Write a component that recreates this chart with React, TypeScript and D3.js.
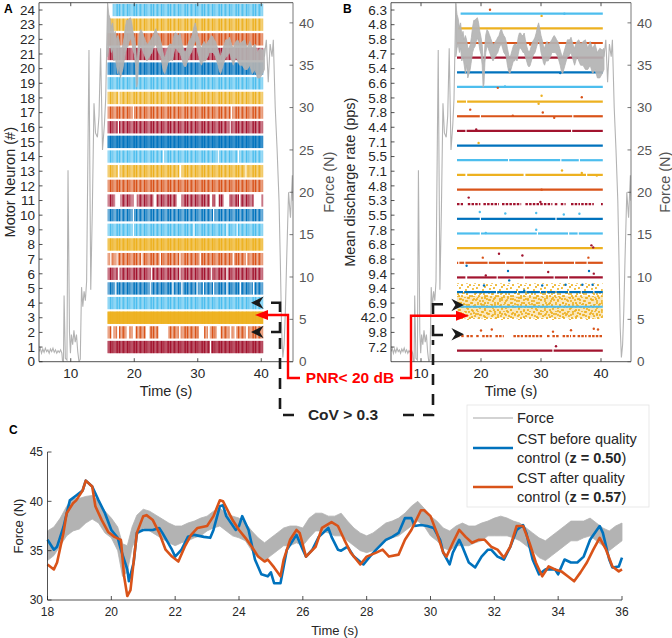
import React from 'react';
import * as d3 from 'd3';

// ---------------- DATA ----------------
const rowIds = d3.range(1, 25);
const rateLabels = ['7.2','9.8','42.0','6.9','9.4','9.4','6.8','6.8','7.8','5.5','5.3','4.8','7.1','5.5','7.1','4.4','7.8','5.8','6.6','5.4','4.7','5.8','4.8','6.3'];
const rowStart = [15.8,15.8,15.8,15.8,15.8,15.8,15.8,15.8,15.8,15.8,15.8,15.8,15.8,15.8,15.8,15.8,15.8,15.8,15.8,15.8,15.8,15.8,16.2,16.6];
const rowEnd = 40.3;
const rowGaps: number[][][] = [
  [[31.9,32.1]],
  [[16.4,16.7],[17.3,17.6],[18.8,19.2],[19.8,20.2],[21.8,22.4],[23.8,25.4],[27.0,27.3],[30.2,31.0],[31.6,31.9],[33.0,33.6],[35.0,35.3],[35.8,36.1],[37.6,37.9]],
  [],
  [],
  [[17.0,17.2],[22.5,22.7],[26.0,26.2],[27.4,27.6],[29.8,30.0],[30.8,31.0],[32.4,32.6],[34.5,34.7],[36.6,36.8],[38.7,38.9]],
  [[17.4,17.7],[22.6,22.8],[27.1,27.3],[32.1,32.3],[34.5,34.7]],
  [[16.2,16.4],[17.2,17.4],[21.1,21.3],[24.0,24.2],[27.1,27.3],[30.3,30.5],[35.5,35.7],[37.6,37.8]],
  [],
  [[19.8,20.0],[29.3,29.5],[34.5,34.7],[36.1,36.3]],
  [[19.8,20.0],[32.4,32.6]],
  [[17.0,17.8],[19.9,20.4],[23.0,23.5],[26.7,27.4],[31.9,32.3],[32.8,33.3],[34.1,35.0],[36.5,36.7],[38.8,40.0]],
  [],
  [[17.4,17.7],[27.1,27.4],[37.5,37.7]],
  [[24.5,24.7],[33.2,33.4],[36.3,36.5]],
  [],
  [[17.4,17.6],[35.0,35.2]],
  [[19.8,20.0],[35.2,35.4]],
  [[17.5,17.7]],
  [], [], [], [], [], []
];
// [row, time (s), displayed position in row units]
const rateOutliers: [number, number, number][] = [
  [22,21.5,24.27],[23,30.1,23.85],[24,33.9,24.0],[22,28.2,21.9],[20,24.8,20.2],[20,33.2,19.95],
  [17,22.8,18.94],[19,24.0,19.03],[18,30.1,18.4],[17,36.8,18.3],[18,29.6,17.85],[17,18.2,17.45],
  [17,30.3,17.26],[17,25.3,17.04],[17,32.2,16.9],[16,19.2,16.1],[13,19.6,15.18],[13,33.5,13.3],
  [13,36.8,13.13],[13,39.3,12.96],[12,30.1,11.99],[11,17.95,11.45],[11,29.9,11.15],[9,19.8,10.47],
  [9,24.05,10.36],[9,29.2,10.4],[9,33.8,10.3],[9,36.4,10.35],[9,20.8,9.03],[9,29.2,9.26],
  [11,38.4,8.19],[11,38.7,8.05],[6,23.0,7.62],[6,26.9,7.5],[7,20.3,7.35],[7,37.9,7.35],
  [5,17.6,6.8],[5,24.5,6.44],[5,38.0,6.44],[6,20.8,6.13],[6,31.2,6.37],[6,38.8,6.26],
  [5,20.5,5.45],[5,24.7,5.8],[5,27.2,5.1],[5,30.2,5.45],[5,34.1,5.5],[5,36.9,5.5],[5,38.6,5.5],
  [2,20.0,2.38],[2,21.8,2.45],[2,32.0,2.3],[2,35.0,2.4],[2,38.8,2.5],[2,39.5,2.45],[1,32.5,1.3]
];
// force during hold phase: [time, low, high] (N)
const forceBand: [number, number, number][] = [
  [15.8,36.0,42.3],[16.0,37.0,41.0],[16.2,37.5,40.5],[16.4,36.5,39.5],[16.6,37.0,40.0],[16.8,35.5,38.5],
  [17.0,36.0,39.0],[17.2,35.0,38.0],[17.4,34.0,38.5],[17.6,35.0,38.0],[17.8,33.5,37.0],
  [18.0,34.0,37.0],[18.2,34.5,37.4],[18.4,35.5,38.3],[18.6,36.5,39.5],[18.8,37.0,40.3],[19.0,37.2,40.3],
  [19.2,37.8,40.5],[19.4,38.2,40.6],[19.6,37.8,40.0],[19.8,36.8,39.0],[20.0,36.3,38.3],[20.2,35.0,37.4],
  [20.35,32.4,35.7],[20.5,32.8,35.5],[20.65,35.3,37.4],[20.8,36.5,38.6],[21.0,37.3,39.2],[21.2,37.0,39.0],
  [21.4,36.6,38.6],[21.6,36.2,38.2],[21.8,35.8,37.8],[22.0,35.5,37.5],[22.2,35.8,37.5],[22.4,36.0,37.8],
  [22.6,36.3,38.0],[22.8,36.5,38.3],[23.0,37.0,38.5],[23.2,37.3,39.0],[23.4,37.5,39.3],[23.6,37.0,38.8],
  [23.8,36.5,38.5],[24.0,36.3,38.3],[24.2,36.0,37.8],[24.4,35.0,37.0],[24.6,34.3,36.3],[24.8,34.0,35.8],
  [25.0,34.5,36.3],[25.2,35.0,36.8],[25.4,35.5,37.3],[25.6,35.5,37.5],[25.8,35.8,37.5],[26.0,35.5,37.3],
  [26.2,36.3,38.3],[26.4,37.0,38.8],[26.6,37.0,38.8],[26.8,36.8,38.5],[27.0,36.5,38.5],[27.2,36.5,38.8],
  [27.4,36.0,38.0],[27.6,35.5,37.3],[27.8,35.0,36.8],[28.0,34.8,36.5],[28.2,35.0,36.8],[28.4,35.5,37.3],
  [28.6,36.0,37.8],[28.8,36.3,38.0],[29.0,36.5,38.3],[29.2,37.0,38.8],[29.4,37.5,39.5],[29.6,38.0,40.0],
  [29.8,37.5,39.3],[30.0,36.5,38.5],[30.2,36.0,38.0],[30.4,35.3,37.3],[30.6,35.0,37.0],[30.8,35.5,37.5],
  [31.0,35.5,37.8],[31.2,35.5,37.5],[31.4,35.8,37.5],[31.6,36.0,37.8],[31.8,36.5,38.0],[32.0,36.5,38.3],
  [32.2,36.5,38.5],[32.4,36.5,38.3],[32.6,36.3,38.0],[32.8,36.0,37.8],[33.0,35.5,37.3],[33.2,35.0,36.8],
  [33.4,34.3,36.3],[33.6,34.0,36.0],[33.8,34.5,36.5],[34.0,35.0,37.0],[34.2,35.5,37.5],[34.4,36.0,38.0],
  [34.6,36.0,38.0],[34.8,36.3,38.0],[35.0,36.5,38.3],[35.2,36.0,37.8],[35.4,35.5,37.3],[35.6,35.0,37.0],
  [35.8,35.5,37.5],[36.0,36.0,37.8],[36.3,35.5,38.0],[36.6,35.0,37.5],[37.0,35.0,37.8],[37.4,34.5,38.0],
  [37.8,34.5,37.0],[38.2,35.0,37.8],[38.6,34.0,37.0],[39.0,34.5,37.5],[39.4,33.5,36.5],[39.8,33.5,37.0],
  [40.2,34.0,36.8],[40.5,34.5,37.0]
];
const forceRampUp: [number, number][] = [
  [5.0,1.2],[5.2,1.6],[5.4,1.0],[5.6,1.5],[5.8,1.1],[6.0,1.6],[6.2,1.2],[6.4,1.4],[6.6,1.0],[6.8,1.5],
  [7.0,1.2],[7.2,1.6],[7.4,1.1],[7.6,1.4],[7.8,1.0],[8.0,1.3],[8.2,1.1],[8.4,1.4],[8.6,1.0],[8.7,0.1],
  [8.85,0.0],[8.95,7.8],[9.15,0.4],[9.4,0.2],[9.57,22.6],[9.8,3.5],[9.95,1.0],[10.1,3.2],[10.3,2.0],
  [10.5,3.7],[10.7,2.3],[10.9,3.2],[11.1,1.2],[11.3,0.0],[11.5,0.3],[11.7,8.8],[11.9,6.5],[12.1,8.3],
  [12.3,7.2],[12.5,9.5],[12.87,36.8],[13.15,8.5],[13.4,18.0],[13.66,30.5],[13.9,27.0],[14.2,26.5],
  [14.45,29.0],[14.7,37.0],[15.0,25.0],[15.3,28.0],[15.5,31.0],[15.8,42.3]
];
const forceRampDown: [number, number][] = [
  [40.5,36.0],[40.8,38.0],[41.1,33.0],[41.4,37.5],[41.7,36.0],[41.9,38.0],[42.2,30.0],[42.5,25.0],
  [42.8,19.0],[43.0,12.0],[43.2,4.0],[43.4,0.5],[43.6,2.0],[43.8,6.0],[44.0,12.0],[44.3,20.0],
  [44.6,17.0],[44.9,22.0],[45.0,19.0]
];
const cstBefore: [number, number][] = [
  [18.0,36.1],[18.2,35.1],[18.3,35.4],[18.5,37.4],[18.7,40.1],[18.9,40.6],[19.1,41.1],[19.2,42.1],[19.4,41.5],
  [19.6,40.1],[19.8,38.8],[20.0,37.1],[20.2,36.3],[20.3,35.1],[20.5,33.1],[20.55,31.9],[20.7,33.8],[20.8,36.8],
  [21.0,37.1],[21.3,37.1],[21.5,37.3],[21.6,36.8],[21.9,35.1],[22.0,34.4],[22.2,35.1],[22.4,36.4],[22.6,36.6],
  [22.9,36.4],[23.1,36.3],[23.2,37.1],[23.4,39.5],[23.5,39.6],[23.6,38.5],[23.9,37.1],[24.0,37.5],[24.1,38.5],
  [24.3,37.1],[24.5,34.1],[24.7,32.6],[24.9,32.4],[25.0,32.8],[25.1,31.7],[25.3,31.7],[25.4,33.4],[25.5,35.1],
  [25.8,36.6],[26.0,35.1],[26.1,34.4],[26.3,35.1],[26.5,36.4],[26.8,37.3],[26.9,36.4],[27.1,35.1],[27.2,35.0],
  [27.4,35.4],[27.6,34.4],[27.9,33.6],[28.1,34.4],[28.3,35.1],[28.6,36.1],[28.8,36.4],[29.0,36.8],[29.2,38.3],
  [29.4,38.3],[29.5,37.5],[29.7,37.6],[29.9,37.5],[30.1,37.3],[30.3,36.1],[30.4,34.8],[30.6,33.6],[30.7,34.8],
  [30.9,36.1],[31.0,35.4],[31.2,33.8],[31.4,33.3],[31.6,34.4],[31.8,35.1],[31.9,35.1],[32.1,34.4],[32.3,34.1],
  [32.5,35.4],[32.7,37.1],[32.9,37.6],[33.0,36.8],[33.2,34.1],[33.4,32.6],[33.6,33.1],[33.9,33.1],[34.0,32.6],
  [34.2,34.1],[34.4,33.8],[34.6,33.8],[34.8,34.4],[35.0,36.1],[35.3,37.5],[35.4,36.8],[35.6,34.1],[35.7,33.3],
  [35.9,33.4],[36.0,34.3]
];
const cstAfter: [number, number][] = [
  [18.0,33.6],[18.2,33.1],[18.3,33.8],[18.5,36.8],[18.6,38.8],[18.8,39.8],[18.9,40.1],[19.1,41.1],[19.2,42.1],
  [19.4,41.5],[19.5,39.5],[19.7,38.1],[19.9,36.9],[20.1,36.4],[20.3,36.1],[20.4,32.4],[20.5,30.4],[20.6,31.0],
  [20.8,36.8],[21.0,38.5],[21.1,38.6],[21.3,38.1],[21.5,36.8],[21.7,35.1],[21.9,34.4],[22.1,33.9],[22.3,35.4],
  [22.5,36.6],[22.7,37.3],[23.0,37.5],[23.2,38.5],[23.4,40.1],[23.5,40.0],[23.8,38.1],[24.0,37.1],[24.2,36.3],
  [24.4,35.4],[24.6,34.4],[24.8,33.9],[24.9,34.1],[25.1,33.3],[25.3,32.4],[25.4,34.1],[25.6,36.1],[25.8,37.1],
  [25.9,36.8],[26.1,34.4],[26.4,35.4],[26.6,37.3],[26.9,37.9],[27.1,37.5],[27.3,36.1],[27.5,34.8],[27.8,33.6],
  [28.0,34.4],[28.3,34.8],[28.5,35.1],[28.7,34.4],[29.0,34.6],[29.2,36.1],[29.4,37.1],[29.7,39.1],[29.8,39.1],
  [30.0,38.5],[30.2,36.8],[30.4,34.8],[30.5,34.4],[30.7,35.8],[30.9,37.1],[31.1,36.4],[31.3,35.8],[31.5,36.1],
  [31.7,36.1],[31.9,35.4],[32.1,35.1],[32.3,34.3],[32.5,35.4],[32.7,37.5],[32.9,37.5],[33.1,35.8],[33.3,33.8],
  [33.5,32.4],[33.7,33.4],[33.9,33.1],[34.1,32.9],[34.3,32.4],[34.5,31.9],[34.7,32.8],[34.9,33.8],[35.1,35.1],
  [35.3,36.3],[35.5,35.1],[35.7,33.4],[35.9,32.9],[36.0,33.1]
];
const rightForceTicks = [0,5,10,15,20,25,30,35,40];
const timeTicksAB = [10,20,30,40];
const timeTicksC = [18,20,22,24,26,28,30,32,34,36];
const forceTicksC = [30,35,40,45];
const legendItems = ['Force', 'CST before quality', 'CST after quality'];
const legendZ = ['0.50', '0.57'];

// ---------------- STYLE ----------------
const FONT = "'Liberation Sans', Arial, Helvetica, sans-serif";
const COLORS = ['#A2142F', '#D95319', '#EDB120', '#4DBEEE', '#0072BD'];
const AX = '#262626';
const RAX = '#555555';
const GRAY = '#b3b3b3';
const rowSolid = [0.45,0,0.95,0.2,0.15,0.1,0,0.45,0.15,0.1,0,0.1,0.2,0.1,0.55,0.1,0,0.15,0.15,0.3,0.1,0.1,0.2,0.15];
const colorOf = (r: number) => COLORS[(r - 1) % 5];

function segmentsFor(r: number): [number, number][] {
  const out: [number, number][] = [];
  let s = rowStart[r - 1];
  for (const g of rowGaps[r - 1]) {
    if (g[0] > s) out.push([s, g[0]]);
    s = g[1];
  }
  if (rowEnd > s) out.push([s, rowEnd]);
  return out;
}

export default function App() {
  const xA = d3.scaleLinear().domain([5, 45]).range([39, 293]);
  const xB = d3.scaleLinear().domain([5, 45]).range([391, 631]);
  const yRow = d3.scaleLinear().domain([0, 24.5]).range([361.7, 2.7]);
  const yF = d3.scaleLinear().domain([0, 42.38]).range([361.7, 2.7]);
  const xC = d3.scaleLinear().domain([18, 36]).range([47.5, 622]);
  const yC = d3.scaleLinear().domain([30, 45]).range([600, 452]);

  const forcePanel = (x: d3.ScaleLinear<number, number>) => {
    const area = d3.area<[number, number, number]>().x(d => x(d[0])).y0(d => yF(d[1])).y1(d => yF(d[2]));
    const line = d3.line<[number, number]>().x(d => x(d[0])).y(d => yF(d[1]));
    return (
      <g>
        <path d={area(forceBand) || ''} fill={GRAY} fillOpacity={0.92} stroke={GRAY} strokeWidth={0.8} />
        <path d={line(forceRampUp) || ''} fill="none" stroke={GRAY} strokeWidth={1.1} />
        <path d={line(forceRampDown) || ''} fill="none" stroke={GRAY} strokeWidth={1.1} />
      </g>
    );
  };

  const axesAB = (x: d3.ScaleLinear<number, number>, leftLabels: string[], leftFrom: number, leftTitle: string, leftTitleX: number, rightTitleX: number) => {
    const [x0, x1] = x.range();
    const yTop = yRow(24.5), yBot = yRow(0);
    return (
      <g fontFamily={FONT}>
        <line x1={x0} x2={x1} y1={yTop} y2={yTop} stroke={AX} strokeWidth={0.8} />
        <line x1={x0} x2={x1} y1={yBot} y2={yBot} stroke={AX} strokeWidth={0.8} />
        <line x1={x0} x2={x0} y1={yTop} y2={yBot} stroke={AX} strokeWidth={0.8} />
        <line x1={x1} x2={x1} y1={yTop} y2={yBot} stroke={RAX} strokeWidth={0.8} />
        {leftLabels.map((lab, i) => {
          const v = i + leftFrom;
          return (
            <g key={'l' + i}>
              <line x1={x0} x2={x0 + 3.5} y1={yRow(v)} y2={yRow(v)} stroke={AX} strokeWidth={0.8} />
              <text x={x0 - 4} y={yRow(v)} dy="0.35em" textAnchor="end" fontSize={13.5} fill={AX}>{lab}</text>
            </g>
          );
        })}
        {timeTicksAB.map(t => (
          <g key={'t' + t}>
            <line x1={x(t)} x2={x(t)} y1={yBot} y2={yBot - 3.5} stroke={AX} strokeWidth={0.8} />
            <line x1={x(t)} x2={x(t)} y1={yTop} y2={yTop + 3.5} stroke={AX} strokeWidth={0.8} />
            <text x={x(t)} y={373} dy="0.35em" textAnchor="middle" fontSize={13.5} fill={AX}>{t}</text>
          </g>
        ))}
        {rightForceTicks.map(f => (
          <g key={'r' + f}>
            <line x1={x1} x2={x1 - 3.5} y1={yF(f)} y2={yF(f)} stroke={RAX} strokeWidth={0.8} />
            <text x={x1 + 6} y={yF(f)} dy="0.35em" textAnchor="start" fontSize={13.5} fill={RAX}>{f}</text>
          </g>
        ))}
        <text x={(x0 + x1) / 2} y={391} dy="0.35em" textAnchor="middle" fontSize={14.5} fill={AX}>Time (s)</text>
        <text transform={`translate(${leftTitleX},${(yTop + yBot) / 2}) rotate(-90)`} dy="0.35em" textAnchor="middle" fontSize={14.5} fill={AX}>{leftTitle}</text>
        <text transform={`translate(${rightTitleX},${(yTop + yBot) / 2}) rotate(-90)`} dy="0.35em" textAnchor="middle" fontSize={14.5} fill={RAX}>Force (N)</text>
      </g>
    );
  };

  const stripeLines = [
    { x: 0, w: 1.1, c: true, o: 1 }, { x: 2.2, w: 0.8, c: false, o: 0.3 }, { x: 3.6, w: 1.6, c: true, o: 0.85 },
    { x: 6.4, w: 0.7, c: false, o: 0.25 }, { x: 8.0, w: 1.2, c: true, o: 1 }, { x: 10.4, w: 0.7, c: true, o: 0.6 },
    { x: 12.6, w: 0.9, c: false, o: 0.3 }, { x: 14.5, w: 1.4, c: true, o: 0.9 }
  ];

  const cloudDots = [[1,2],[5,7],[9,1],[12,6],[3,10],[7,4],[11,10],[14,3],[16,8],[2,6],[8,8],[15,11]];

  const legendX = 467, legendY = 405;
  const lineC = d3.line<[number, number]>().x(d => xC(d[0])).y(d => yC(d[1]));
  const bandC = d3.area<[number, number, number]>().x(d => xC(d[0])).y0(d => yC(d[1])).y1(d => yC(d[2]));
  const bandCData = forceBand.filter(d => d[0] >= 18 && d[0] <= 36);

  const blackArrow = (tx: number, ty: number, dir: number) => {
    const L = 12.6, H = 6.3, N = 4;
    return `M${tx},${ty} L${tx + dir * L},${ty - H} L${tx + dir * (L - N)},${ty} L${tx + dir * L},${ty + H} Z`;
  };

  return (
    <svg width={672} height={638} style={{ position: 'absolute', left: 0, top: 0, background: '#fff' }} fontFamily={FONT}>
      <defs>
        {COLORS.map((c, i) => (
          <pattern key={i} id={'stripe' + i} width={17} height={10} patternUnits="userSpaceOnUse">
            <rect width={17} height={10} fill={c} fillOpacity={0.6} />
            {stripeLines.map((s, j) => (
              <rect key={j} x={s.x} width={s.w} height={10} fill={s.c ? c : '#fff'} fillOpacity={s.o} />
            ))}
          </pattern>
        ))}
        <pattern id="cloud" width={17} height={11} patternUnits="userSpaceOnUse">
          {cloudDots.map((d, i) => <circle key={i} cx={d[0]} cy={d[1]} r={1.05} fill={COLORS[2]} />)}
        </pattern>
        <pattern id="cloud2" width={13} height={7} patternUnits="userSpaceOnUse" patternTransform="translate(5,3)">
          {cloudDots.slice(0, 6).map((d, i) => <circle key={i} cx={d[0] % 13} cy={d[1] % 7} r={1.05} fill={COLORS[2]} />)}
        </pattern>
        <clipPath id="clipA"><rect x={39} y={2.7} width={254} height={359} /></clipPath>
        <clipPath id="clipB"><rect x={391} y={2.7} width={240} height={359} /></clipPath>
      </defs>

      {/* Panel A */}
      <g>
        {rowIds.map(r => {
          const ci = (r - 1) % 5;
          const y0 = yRow(r + 0.42), y1 = yRow(r - 0.42);
          return (
            <g key={r}>
              {segmentsFor(r).map((s, k) => (
                <g key={k}>
                  <rect x={xA(s[0])} y={y0} width={xA(s[1]) - xA(s[0])} height={y1 - y0} fill={`url(#stripe${ci})`} />
                  {rowSolid[r - 1] > 0 && (
                    <rect x={xA(s[0])} y={y0} width={xA(s[1]) - xA(s[0])} height={y1 - y0} fill={COLORS[ci]} fillOpacity={rowSolid[r - 1]} />
                  )}
                </g>
              ))}
            </g>
          );
        })}
        <g clipPath="url(#clipA)">{forcePanel(xA)}</g>
        {axesAB(xA, ['0'].concat(rowIds.map(r => String(r))), 0, 'Motor Neuron (#)', 10, 329)}
      </g>

      {/* Panel B */}
      <g>
        <rect x={xB(16.0)} y={yRow(5.35)} width={xB(rowEnd) - xB(16.0)} height={yRow(2.85) - yRow(5.35)} fill="url(#cloud)" />
        <rect x={xB(16.0)} y={yRow(4.8)} width={xB(rowEnd) - xB(16.0)} height={yRow(2.95) - yRow(4.8)} fill="url(#cloud2)" />
        <rect x={xB(16.0)} y={yRow(4.5)} width={xB(rowEnd) - xB(16.0)} height={yRow(3.0) - yRow(4.5)} fill={COLORS[2]} fillOpacity={0.3} />
        {rowIds.filter(r => r !== 3).map(r => (
          <g key={r}>
            {segmentsFor(r).map((s, k) => (
              <line key={k} x1={xB(Math.max(s[0], r === 24 ? 16.4 : 16.0))} x2={xB(s[1])} y1={yRow(r - 0.25)} y2={yRow(r - 0.25)}
                stroke={colorOf(r)} strokeWidth={2.2} strokeDasharray={r === 2 || r === 11 ? '2.5 1.2' : undefined} />
            ))}
          </g>
        ))}
        {rateOutliers.map((d, i) => (
          <circle key={i} cx={xB(d[1])} cy={yRow(d[2] - 0.25)} r={1.2} fill={colorOf(d[0])} />
        ))}
        <g clipPath="url(#clipB)">{forcePanel(xB)}</g>
        {axesAB(xB, rateLabels, 1, 'Mean discharge rate (pps)', 350, 665)}
      </g>

      {/* Annotations */}
      <g fill="none" stroke="#1a1a1a" strokeWidth={2.6}>
        <path d="M271,302.7 H280 V312" />
        <path d="M271,332 H280 V322" />
        <path d="M443,304.3 H433 V314" />
        <path d="M443,335 H433 V325" />
        <path d="M280,338 V415 H433 V340" strokeDasharray="11 9" />
      </g>
      <path d={blackArrow(251, 302.7, 1)} fill="#1a1a1a" />
      <path d={blackArrow(251, 332, 1)} fill="#1a1a1a" />
      <path d={blackArrow(464, 305, -1)} fill="#1a1a1a" />
      <path d={blackArrow(464, 334.3, -1)} fill="#1a1a1a" />
      <rect x={300} y={405} width={98} height={20} fill="#fff" />
      <text x={343} y={415} dy="0.35em" textAnchor="middle" fontSize={15.5} fontWeight="bold" fill="#262626">CoV &gt; 0.3</text>

      <g fill="none" stroke="#ff0000" strokeWidth={2.4}>
        <polyline points="266,315 288,315 288,378 300,378" />
        <polyline points="400,378 411,378 411,315.7 458,315.7" />
      </g>
      <path d="M255,315 L268,310 L268,320 Z" fill="#ff0000" />
      <path d="M469,315.7 L456,310.7 L456,320.7 Z" fill="#ff0000" />
      <text x={350} y={378} dy="0.35em" textAnchor="middle" fontSize={15.5} fontWeight="bold" fill="#ff0000">PNR&lt; 20 dB</text>

      {/* Panel letters */}
      <text x={4} y={13} fontSize={12} fontWeight="bold" fill="#000">A</text>
      <text x={343} y={13} fontSize={12} fontWeight="bold" fill="#000">B</text>
      <text x={9} y={434} fontSize={12} fontWeight="bold" fill="#000">C</text>

      {/* Panel C */}
      <g>
        <path d={bandC(bandCData) || ''} fill={GRAY} stroke={GRAY} strokeWidth={0.8} />
        <path d={lineC(cstBefore) || ''} fill="none" stroke={COLORS[4]} strokeWidth={2.6} strokeLinejoin="round" />
        <path d={lineC(cstAfter) || ''} fill="none" stroke={COLORS[1]} strokeWidth={2.6} strokeLinejoin="round" />
        <line x1={xC(18)} x2={xC(18)} y1={yC(45)} y2={yC(30)} stroke={AX} strokeWidth={0.8} />
        <line x1={xC(18)} x2={xC(36)} y1={yC(30)} y2={yC(30)} stroke={AX} strokeWidth={0.8} />
        {timeTicksC.map(t => (
          <g key={t}>
            <line x1={xC(t)} x2={xC(t)} y1={yC(30)} y2={yC(30) - 4} stroke={AX} strokeWidth={0.8} />
            <text x={xC(t)} y={612} dy="0.35em" textAnchor="middle" fontSize={12} fill={AX}>{t}</text>
          </g>
        ))}
        {forceTicksC.map(f => (
          <g key={f}>
            <line x1={xC(18)} x2={xC(18) + 4} y1={yC(f)} y2={yC(f)} stroke={AX} strokeWidth={0.8} />
            <text x={43} y={yC(f)} dy="0.35em" textAnchor="end" fontSize={12} fill={AX}>{f}</text>
          </g>
        ))}
        <text x={(xC(18) + xC(36)) / 2} y={630} dy="0.35em" textAnchor="middle" fontSize={13} fill={AX}>Time (s)</text>
        <text transform={`translate(18,${(yC(30) + yC(45)) / 2}) rotate(-90)`} dy="0.35em" textAnchor="middle" fontSize={13} fill={AX}>Force (N)</text>

        <rect x={legendX} y={legendY} width={182} height={102} fill="#fff" stroke="#e3e3e3" strokeWidth={0.8} />
        <line x1={473} x2={513} y1={418} y2={418} stroke="#c4c4c4" strokeWidth={1.4} />
        <line x1={473} x2={513} y1={448} y2={448} stroke={COLORS[4]} strokeWidth={2.6} />
        <line x1={473} x2={513} y1={487} y2={487} stroke={COLORS[1]} strokeWidth={2.6} />
        <g fontSize={14.5} fill={AX}>
          <text x={517} y={418} dy="0.35em">{legendItems[0]}</text>
          <text x={517} y={439} dy="0.35em">{legendItems[1]}</text>
          <text x={517} y={458} dy="0.35em">control (<tspan fontWeight="bold">z = {legendZ[0]}</tspan>)</text>
          <text x={517} y={478} dy="0.35em">{legendItems[2]}</text>
          <text x={517} y={497} dy="0.35em">control (<tspan fontWeight="bold">z = {legendZ[1]}</tspan>)</text>
        </g>
      </g>
    </svg>
  );
}
